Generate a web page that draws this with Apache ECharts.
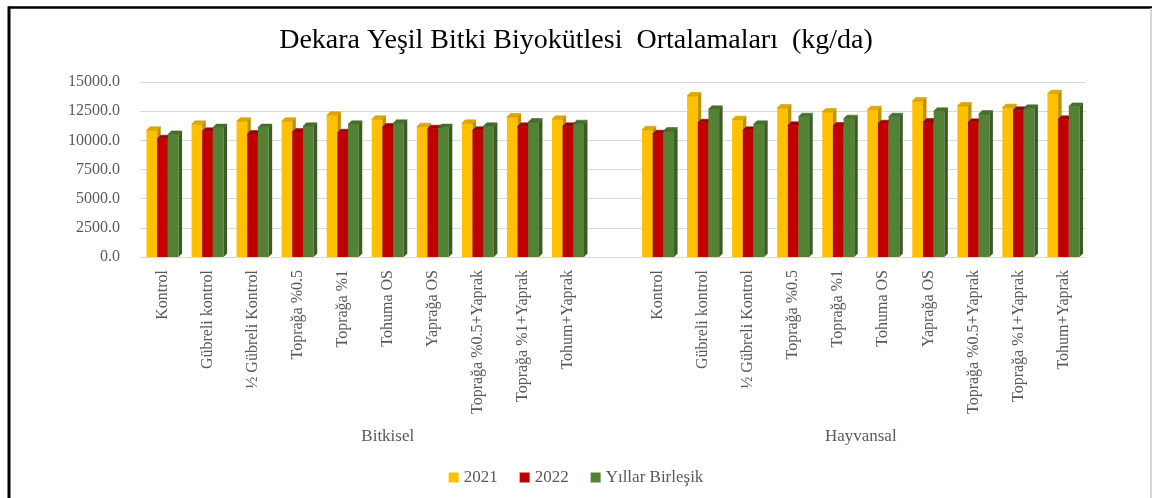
<!DOCTYPE html>
<html>
<head>
<meta charset="utf-8">
<script src="https://cdn.jsdelivr.net/npm/echarts@6/dist/echarts.min.js"></script>
<style>
html,body{margin:0;padding:0;background:#fff}
#chart{width:1152px;height:498px}
</style>
</head>
<body>
<div id="chart"></div>
<script>
/*---------- data ----------*/
var treatments = ['Kontrol', 'Gübreli kontrol', '½ Gübreli Kontrol', 'Toprağa %0.5', 'Toprağa %1',
    'Tohuma OS', 'Yaprağa OS', 'Toprağa %0.5+Yaprak', 'Toprağa %1+Yaprak', 'Tohum+Yaprak'];
var groups = ['Bitkisel', 'Hayvansal'];
var seriesNames = ['2021', '2022', 'Yıllar Birleşik'];

var bitkisel2021 = [10860, 11370, 11630, 11630, 12140, 11800, 11170, 11460, 12000, 11800];
var bitkisel2022 = [10140, 10770, 10540, 10710, 10660, 11140, 11000, 10860, 11200, 11200];
var bitkiselOrt  = [10510, 11090, 11090, 11200, 11370, 11460, 11090, 11200, 11570, 11430];

var hayvansal2021 = [10910, 13800, 11770, 12770, 12430, 12630, 13370, 12940, 12800, 14000];
var hayvansal2022 = [10570, 11510, 10860, 11290, 11230, 11430, 11570, 11540, 12570, 11800];
var hayvansalOrt  = [10800, 12660, 11370, 12030, 11860, 12030, 12490, 12260, 12740, 12910];

var yTicks = [0, 2500, 5000, 7500, 10000, 12500, 15000];

/*---------- build ----------*/
// one empty slot between the two groups
var categories = treatments.concat([''], treatments);

function pairs(left, right) {
    var out = [];
    left.forEach(function (v, i) { out.push([i, v]); });
    right.forEach(function (v, i) { out.push([i + left.length + 1, v]); });
    return out;
}

var seriesData = [
    pairs(bitkisel2021, hayvansal2021),
    pairs(bitkisel2022, hayvansal2022),
    pairs(bitkiselOrt, hayvansalOrt)
];

// front, side, top
var colors = [
    ['#FFC000', '#BF9000', '#E0A800'],
    ['#C00000', '#850000', '#A00000'],
    ['#548235', '#3A5C24', '#476F2D']
];

var dx = 3.5, dy = 3.5;

function prism(k) {
    var c = colors[k];
    return function (params, api) {
        var idx = api.value(0);
        var v = api.value(1);
        var top = api.coord([idx, v]);
        var base = api.coord([idx, 0]);
        var band = api.size([1, 0])[0];
        var bw = band * 0.237;
        var x = top[0] - 1.5 * bw + k * bw;
        var yT = top[1], yB = base[1];
        return {
            type: 'group',
            children: [
                {type: 'rect', shape: {x: x, y: yT, width: bw, height: yB - yT}, style: {fill: c[0]}},
                {type: 'polygon', shape: {points: [[x + bw, yT], [x + bw + dx, yT - dy], [x + bw + dx, yB - dy], [x + bw, yB]]}, style: {fill: c[1]}},
                {type: 'polygon', shape: {points: [[x, yT], [x + dx, yT - dy], [x + bw + dx, yT - dy], [x + bw, yT]]}, style: {fill: c[2], stroke: c[1], lineWidth: 0.5}}
            ]
        };
    };
}

var serif = 'Liberation Serif';
var grey = '#595959';

var chart = echarts.init(document.getElementById('chart'));

var option = {
    animation: false,
    title: {
        text: 'Dekara Yeşil Bitki Biyokütlesi  Ortalamaları  (kg/da)',
        left: 'center',
        top: 22,
        textStyle: {fontFamily: serif, fontSize: 28, fontWeight: 'normal', color: '#000'}
    },
    legend: {
        data: seriesNames,
        top: 464,
        left: 'center',
        itemWidth: 10,
        itemHeight: 10,
        itemGap: 22,
        icon: 'rect',
        textStyle: {fontFamily: serif, fontSize: 17, color: grey}
    },
    grid: {left: 140, right: 66, top: 82, height: 175},
    xAxis: {
        type: 'category',
        data: categories,
        axisTick: {show: false},
        axisLine: {lineStyle: {color: '#d9d9d9'}},
        axisLabel: {
            interval: 0,
            rotate: 90,
            margin: 13,
            fontFamily: serif,
            fontSize: 16,
            color: grey
        }
    },
    yAxis: {
        type: 'value',
        min: yTicks[0],
        max: yTicks[yTicks.length - 1],
        interval: yTicks[1] - yTicks[0],
        axisLine: {show: false},
        axisTick: {show: false},
        splitLine: {lineStyle: {color: '#d9d9d9'}},
        axisLabel: {
            margin: 20,
            fontFamily: serif,
            fontSize: 16,
            color: grey,
            formatter: function (v) { return v.toFixed(1); }
        }
    },
    graphic: [
        {type: 'line', shape: {x1: 8, y1: 7.5, x2: 1152, y2: 7.5}, style: {stroke: '#000', lineWidth: 2.5}},
        {type: 'line', shape: {x1: 9, y1: 6.5, x2: 9, y2: 498}, style: {stroke: '#000', lineWidth: 3}},
        {type: 'line', shape: {x1: 1151, y1: 8, x2: 1151, y2: 498}, style: {stroke: '#c8c8c8', lineWidth: 1.5}}
    ],
    series: seriesNames.map(function (name, k) {
        return {
            name: name,
            type: 'custom',
            renderItem: prism(k),
            itemStyle: {color: colors[k][0]},
            encode: {x: 0, y: 1},
            data: seriesData[k]
        };
    })
};

chart.setOption(option);

// group labels under each block of categories
var n = treatments.length;
var leftX = chart.convertToPixel({xAxisIndex: 0}, n / 2);
var r1 = chart.convertToPixel({xAxisIndex: 0}, n + 1 + Math.floor((n - 1) / 2));
var r2 = chart.convertToPixel({xAxisIndex: 0}, n + 1 + Math.ceil((n - 1) / 2));
var groupX = [leftX, (r1 + r2) / 2];

chart.setOption({
    graphic: groups.map(function (g, i) {
        return {
            type: 'text',
            id: 'grp' + i,
            x: groupX[i],
            y: 437,
            style: {text: g, fontFamily: serif, fontSize: 17, fill: grey, align: 'center', verticalAlign: 'middle'}
        };
    })
});
</script>
</body>
</html>
